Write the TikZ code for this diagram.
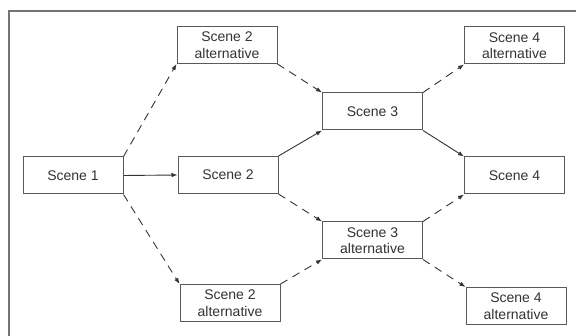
\documentclass[tikz,border=0pt]{standalone}
\usepackage{fontspec}
\setmainfont{Liberation Sans}
\usetikzlibrary{arrows.meta}
\begin{document}
\begin{tikzpicture}[x=1pt,y=-1pt,
  scenebox/.style={draw=black!65, line width=1pt, fill=white, rectangle,
    minimum width=100pt, minimum height=37pt, inner sep=0pt, align=center,
    text=black!80, font=\fontsize{14}{16.5}\selectfont},
  link/.style={draw=black!80, line width=0.9pt, -{Latex[length=6pt,width=4.5pt]}},
  altlink/.style={link, dash pattern=on 8pt off 6pt}]
  \useasboundingbox (0,0) rectangle (576,336);
  % frame
  \draw[black!55, line width=1.6pt] (9,336) -- (9,11) -- (576,11);

  % scenes
  \node[scenebox] (s1)  at (73,175.5)   {Scene 1};
  \node[scenebox] (s2t) at (227,45)     {Scene 2\\alternative};
  \node[scenebox] (s2)  at (228,175)    {Scene 2};
  \node[scenebox] (s2b) at (230,303)    {Scene 2\\alternative};
  \node[scenebox] (s3)  at (372.5,111.5){Scene 3};
  \node[scenebox] (s3a) at (372.5,240.5){Scene 3\\alternative};
  \node[scenebox] (s4t) at (514.5,45.5) {Scene 4\\alternative};
  \node[scenebox] (s4)  at (514.5,175.5){Scene 4};
  \node[scenebox] (s4b) at (516,306)    {Scene 4\\alternative};

  % transitions
  \draw[link]    (s1.east) -- (s2.west);
  \draw[altlink] (s1.north east) -- (s2t.south west);
  \draw[altlink] (s1.south east) -- (s2b.north west);
  \draw[altlink] (s2t.south east) -- (s3.north west);
  \draw[link]    (s2.north east) -- (s3.south west);
  \draw[altlink] (s2.south east) -- (s3a.north west);
  \draw[altlink] (s2b.north east) -- (s3a.south west);
  \draw[altlink] (s3.north east) -- (s4t.south west);
  \draw[link]    (s3.south east) -- (s4.north west);
  \draw[altlink] (s3a.north east) -- (s4.south west);
  \draw[altlink] (s3a.south east) -- (s4b.north west);
\end{tikzpicture}
\end{document}
